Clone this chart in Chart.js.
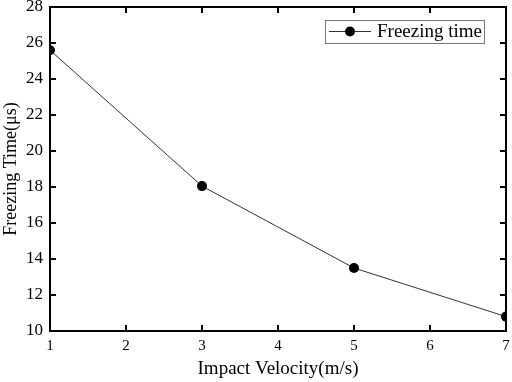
<!DOCTYPE html>
<html>
<head>
<meta charset="utf-8">
<script src="https://cdn.jsdelivr.net/npm/chart.js@4.4.0/dist/chart.umd.min.js"></script>
<style>
  html, body { margin: 0; padding: 0; background: #fff; }
  canvas { display: block; }
</style>
</head>
<body>
<canvas id="c" width="512" height="382"></canvas>
<script>
// data
var velocity = [1, 3, 5, 7];
var freezeTime = [25.6, 18.05, 13.5, 10.8];
var seriesLabel = 'Freezing time';
var xTitle = 'Impact Velocity(m/s)';
var yTitle = 'Freezing Time(\u03bcs)';
var xRange = [1, 7];
var yRange = [10, 28];

var serif = '"Liberation Serif", "Times New Roman", serif';

function noPad(s) {
    s.paddingTop = 0; s.paddingBottom = 0;
    s.paddingLeft = 0; s.paddingRight = 0;
}

// frame + inward ticks on all four sides
var frame = {
    id: 'frame',
    afterDatasetsDraw: function(chart) {
        var ctx = chart.ctx, a = chart.chartArea;
        var sx = chart.scales.x, sy = chart.scales.y;
        var len = 6;
        ctx.save();
        ctx.strokeStyle = '#000';
        ctx.lineWidth = 2;
        ctx.beginPath();
        sx.ticks.forEach(function(t) {
            var px = Math.round(sx.getPixelForValue(t.value));
            ctx.moveTo(px, a.bottom); ctx.lineTo(px, a.bottom - len);
            ctx.moveTo(px, a.top); ctx.lineTo(px, a.top + len);
        });
        sy.ticks.forEach(function(t) {
            var py = Math.round(sy.getPixelForValue(t.value));
            ctx.moveTo(a.left, py); ctx.lineTo(a.left + len, py);
            ctx.moveTo(a.right, py); ctx.lineTo(a.right - len, py);
        });
        ctx.stroke();
        ctx.strokeRect(a.left, a.top, a.right - a.left, a.bottom - a.top);
        ctx.restore();

        // legend box
        var ds = chart.data.datasets[0];
        var bx = 325, by = 20, bw = 159, bh = 23;
        var cy = by + bh / 2;
        ctx.save();
        ctx.fillStyle = '#fff';
        ctx.fillRect(bx, by, bw, bh);
        ctx.strokeStyle = '#777';
        ctx.lineWidth = 1;
        ctx.strokeRect(bx + 0.5, by + 0.5, bw, bh);
        ctx.strokeStyle = ds.borderColor;
        ctx.lineWidth = 1;
        ctx.beginPath();
        ctx.moveTo(bx + 4, cy); ctx.lineTo(bx + 46, cy);
        ctx.stroke();
        ctx.fillStyle = '#000';
        ctx.beginPath();
        ctx.arc(bx + 25, cy, 5, 0, Math.PI * 2);
        ctx.fill();
        ctx.font = '19px ' + serif;
        ctx.textBaseline = 'middle';
        ctx.fillText(ds.label, bx + 52, cy + 1);
        ctx.restore();
    }
};

new Chart(document.getElementById('c'), {
    type: 'line',
    data: {
        datasets: [{
            label: seriesLabel,
            data: velocity.map(function(v, i) { return { x: v, y: freezeTime[i] }; }),
            borderColor: '#333',
            borderWidth: 1,
            backgroundColor: '#000',
            pointBackgroundColor: '#000',
            pointBorderColor: '#000',
            pointRadius: 5,
            pointBorderWidth: 0,
            tension: 0,
            clip: 0
        }]
    },
    options: {
        responsive: false,
        animation: false,
        devicePixelRatio: 1,
        layout: { padding: { top: 7, right: 6, left: 0, bottom: 0 } },
        plugins: {
            legend: { display: false },
            tooltip: { enabled: false }
        },
        scales: {
            x: {
                type: 'linear',
                min: xRange[0], max: xRange[1],
                grid: { display: false, drawTicks: false },
                border: { display: false },
                ticks: {
                    stepSize: 1, padding: 6, color: '#000',
                    font: { family: serif, size: 15 }
                },
                title: {
                    display: true, text: xTitle, color: '#000',
                    font: { family: serif, size: 19 },
                    padding: { top: 2, bottom: 2 }
                },
                afterFit: function(s) { s.height = 51; noPad(s); }
            },
            y: {
                type: 'linear',
                min: yRange[0], max: yRange[1],
                grid: { display: false, drawTicks: false },
                border: { display: false },
                ticks: {
                    stepSize: 2, padding: 7, color: '#000',
                    font: { family: serif, size: 17 }
                },
                title: {
                    display: true, text: yTitle, color: '#000',
                    font: { family: serif, size: 18 },
                    padding: 0
                },
                afterFit: function(s) { s.width = 50; noPad(s); }
            }
        }
    },
    plugins: [frame]
});
</script>
</body>
</html>
